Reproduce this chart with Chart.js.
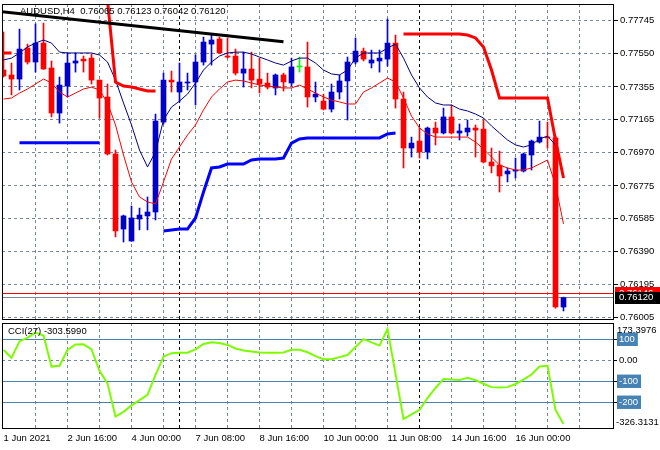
<!DOCTYPE html>
<html>
<head>
<meta charset="utf-8">
<script src="https://cdn.jsdelivr.net/npm/chart.js@4"></script>
<style>
  body { margin: 0; background: #fff; }
  #wrap { position: relative; width: 660px; height: 450px; overflow: hidden; }
  canvas { position: absolute; left: 0; }
  #main { top: 0; }
  #cci { top: 320px; }
</style>
</head>
<body>
<div id="wrap">
  <canvas id="main" width="660" height="325"></canvas>
  <canvas id="cci" width="660" height="130"></canvas>
</div>
<script>
// ---- data ----
const symbolTitle = 'AUDUSD,H4';
const xTickLabels = ['1 Jun 2021', '2 Jun 16:00', '4 Jun 00:00', '7 Jun 08:00', '8 Jun 16:00',
                     '10 Jun 00:00', '11 Jun 08:00', '14 Jun 16:00', '16 Jun 00:00'];
const labelBars = [0, 8, 16, 24, 32, 40, 48, 56, 64];
const gridBars = [4, 8, 12, 16, 20, 24, 28, 32, 36, 40, 44, 48, 52, 56, 60, 64, 68, 72];
const separatorBars = [22, 52];   // week starts
const yTickLabels = ['0.76005', '0.76195', '0.76390', '0.76585', '0.76775',
                     '0.76970', '0.77165', '0.77355', '0.77550', '0.77745'];
const cciTickValues = [-200, -100, 0, 100];
const cciTickLabels = ['-200', '-100', '0.00', '100'];
const cciLevels = [100, -100, -200];
const cciPeriod = 27;
const cciMax = 173.3976;
const cciMin = -326.3131;
const askPrice = 0.76146;

const open = [
  0.77454, 0.77425, 0.77401, 0.77583, 0.77501, 0.77612, 0.77466, 0.77202, 0.77360, 0.77495,
  0.77518, 0.77524, 0.77395, 0.77296, 0.76962, 0.76522, 0.76452, 0.76581, 0.76599, 0.76622,
  0.77149, 0.77395, 0.77325, 0.77378, 0.77384, 0.77501, 0.77606, 0.77636, 0.77536, 0.77536,
  0.77436, 0.77460, 0.77401, 0.77378, 0.77349, 0.77425, 0.77378, 0.77472, 0.77472, 0.77296,
  0.77272, 0.77225, 0.77325, 0.77390, 0.77501, 0.77565, 0.77495, 0.77507, 0.77518, 0.77612,
  0.77284, 0.76997, 0.77038, 0.76974, 0.77114, 0.77085, 0.77179, 0.77085, 0.77091, 0.77114,
  0.77108, 0.76915, 0.76897, 0.76845, 0.76862, 0.76862, 0.76956, 0.77032, 0.77061, 0.77056,
  0.76065
];
const high = [
  0.77677, 0.77495, 0.77694, 0.77606, 0.77724, 0.77729, 0.77507, 0.77413, 0.77554, 0.77554,
  0.77536, 0.77548, 0.77396, 0.77372, 0.76985, 0.76604, 0.76657, 0.76645, 0.76710, 0.77196,
  0.77436, 0.77448, 0.77495, 0.77436, 0.77542, 0.77647, 0.77665, 0.77647, 0.77642, 0.77577,
  0.77559, 0.77559, 0.77524, 0.77436, 0.77431, 0.77436, 0.77524, 0.77530, 0.77618, 0.77384,
  0.77313, 0.77372, 0.77425, 0.77530, 0.77642, 0.77583, 0.77571, 0.77571, 0.77753, 0.77659,
  0.77325, 0.77061, 0.77114, 0.77120, 0.77149, 0.77231, 0.77249, 0.77138, 0.77161, 0.77132,
  0.77161, 0.76997, 0.76979, 0.76880, 0.76938, 0.76968, 0.77044, 0.77155, 0.77149, 0.77067,
  0.76123
];
const low = [
  0.77413, 0.77308, 0.77337, 0.77489, 0.77442, 0.77458, 0.77179, 0.77143, 0.77296, 0.77442,
  0.77442, 0.77372, 0.77173, 0.76956, 0.76476, 0.76446, 0.76450, 0.76517, 0.76517, 0.76575,
  0.77138, 0.77325, 0.77267, 0.77337, 0.77249, 0.77483, 0.77483, 0.77552, 0.77524, 0.77425,
  0.77354, 0.77349, 0.77319, 0.77343, 0.77308, 0.77331, 0.77360, 0.77442, 0.77237, 0.77267,
  0.77220, 0.77208, 0.77284, 0.77161, 0.77489, 0.77507, 0.77466, 0.77442, 0.77477, 0.77231,
  0.76880, 0.76944, 0.76938, 0.76933, 0.77015, 0.77079, 0.77079, 0.77044, 0.77067, 0.76944,
  0.76909, 0.76851, 0.76739, 0.76798, 0.76821, 0.76856, 0.76868, 0.77026, 0.76997, 0.76058,
  0.76042
];
const close = [
  0.77419, 0.77401, 0.77577, 0.77501, 0.77612, 0.77460, 0.77202, 0.77366, 0.77495, 0.77507,
  0.77507, 0.77395, 0.77290, 0.76962, 0.76511, 0.76599, 0.76587, 0.76604, 0.76622, 0.77155,
  0.77395, 0.77384, 0.77384, 0.77384, 0.77501, 0.77618, 0.77630, 0.77554, 0.77530, 0.77436,
  0.77460, 0.77395, 0.77372, 0.77354, 0.77425, 0.77384, 0.77472, 0.77472, 0.77296, 0.77313,
  0.77225, 0.77325, 0.77390, 0.77501, 0.77565, 0.77518, 0.77513, 0.77524, 0.77612, 0.77284,
  0.76997, 0.77026, 0.76974, 0.77114, 0.77085, 0.77179, 0.77085, 0.77097, 0.77114, 0.77102,
  0.76915, 0.76892, 0.76833, 0.76862, 0.76868, 0.76962, 0.77038, 0.77061, 0.77056, 0.76066,
  0.76120
];
const upperBand = [
  0.77513, 0.77524, 0.77554, 0.77589, 0.77612, 0.77630, 0.77612, 0.77559, 0.77554, 0.77554,
  0.77554, 0.77554, 0.77542, 0.77501, 0.77395, 0.77261, 0.77132, 0.76985, 0.76886, 0.76974,
  0.77161, 0.77237, 0.77272, 0.77313, 0.77378, 0.77454, 0.77501, 0.77536, 0.77554, 0.77559,
  0.77559, 0.77548, 0.77530, 0.77513, 0.77495, 0.77483, 0.77507, 0.77524, 0.77524, 0.77495,
  0.77454, 0.77431, 0.77425, 0.77454, 0.77524, 0.77554, 0.77554, 0.77554, 0.77583, 0.77606,
  0.77524, 0.77425, 0.77349, 0.77296, 0.77261, 0.77249, 0.77249, 0.77225, 0.77214, 0.77196,
  0.77173, 0.77126, 0.77085, 0.77044, 0.77015, 0.77003, 0.77015, 0.77050, 0.77067, 0.77015,
  0.76833
];
const lowerBand = [
  0.77284, 0.77290, 0.77319, 0.77343, 0.77372, 0.77401, 0.77378, 0.77325, 0.77296, 0.77319,
  0.77343, 0.77354, 0.77337, 0.77261, 0.77132, 0.76956, 0.76798, 0.76710, 0.76681, 0.76669,
  0.76798, 0.76933, 0.77003, 0.77073, 0.77132, 0.77220, 0.77296, 0.77343, 0.77384, 0.77395,
  0.77390, 0.77378, 0.77366, 0.77360, 0.77354, 0.77349, 0.77349, 0.77366, 0.77343, 0.77319,
  0.77296, 0.77278, 0.77267, 0.77255, 0.77255, 0.77325, 0.77349, 0.77378, 0.77407, 0.77384,
  0.77290, 0.77184, 0.77114, 0.77079, 0.77061, 0.77061, 0.77061, 0.77061, 0.77061, 0.77032,
  0.76991, 0.76944, 0.76897, 0.76880, 0.76868, 0.76868, 0.76880, 0.76903, 0.76927, 0.76780,
  0.76552
];
const stopRed = [
  0.77554, 0.77554, null, null, null, null, null, null, null, null,
  null, null, null, 0.77864, 0.77384, 0.77360, 0.77354, 0.77343, 0.77331, 0.77331,
  null, null, null, null, null, null, null, null, null, null,
  null, null, null, null, null, null, null, null, null, null,
  null, null, null, null, null, null, null, null, null, null,
  0.77665, 0.77665, 0.77665, 0.77665, 0.77665, 0.77665, 0.77665, 0.77665, 0.77659, 0.77642,
  0.77589, 0.77454, 0.77290, 0.77290, 0.77290, 0.77290, 0.77290, 0.77290, 0.77290, 0.77044,
  0.76821
];
const stopBlue = [
  null, null, 0.77028, 0.77028, 0.77028, 0.77028, 0.77028, 0.77028, 0.77028, 0.77028,
  0.77028, 0.77028, 0.77028, null, null, null, null, null, null, null,
  0.76511, 0.76517, 0.76522, 0.76522, 0.76587, 0.76739, 0.76880, 0.76886, 0.76903, 0.76903,
  0.76903, 0.76927, 0.76933, 0.76933, 0.76933, 0.76938, 0.77026, 0.77050, 0.77056, 0.77056,
  0.77056, 0.77056, 0.77056, 0.77056, 0.77056, 0.77056, 0.77056, 0.77056, 0.77079, 0.77085,
  null, null, null, null, null, null, null, null, null, null,
  null, null, null, null, null, null, null, null, null, null,
  null
];
const trendX = [-0.5, 35];
const trendY = [0.77797, 0.77620];
const cci = [
  49, 12, 90, 108, 132, 118, -30, -26, 49, 75,
  76, 52, -50, -110, -268, -246, -215, -190, -165, -70,
  17, 34, 36, 36, 52, 78, 86, 82, 73, 56,
  47, 42, 37, 36, 36, 37, 50, 50, 38, 20,
  5, 5, 15, 25, 63, 101, 85, 70, 149, -65,
  -280, -258, -236, -180, -132, -89, -92, -94, -83, -95,
  -112, -128, -130, -128, -113, -92, -68, -30, -26, -237,
  -303.599
];

// ---- look ----
const FONT = '"Liberation Sans", Arial, sans-serif';
const FONT_SIZE = 9.5;
const GRID = '#778899';
const BULL = '#0000c8', BULL_WICK = '#0000ff', BEAR = '#ff0000', DOJI = '#00ff00';
const X_MIN = -0.1875, X_MAX = 76.3125;
const P_MIN = 0.75989, P_MAX = 0.77841;
const CCI_AXIS_MIN = -327.5, CCI_AXIS_MAX = 177.6;

const idx = open.map((_, i) => i);
const pts = arr => idx.map(i => ({ x: i, y: arr[i] }));
const candleColor = i => close[i] > open[i] ? BULL : close[i] < open[i] ? BEAR : DOJI;
const wickColor = i => close[i] > open[i] ? BULL_WICK : close[i] < open[i] ? BEAR : DOJI;

function drawGrid(chart, yValues) {
  const { ctx, chartArea: a, scales: { x, y } } = chart;
  ctx.save();
  ctx.lineWidth = 1;
  ctx.strokeStyle = GRID;
  ctx.setLineDash([3, 3]);
  ctx.beginPath();
  gridBars.forEach(v => {
    if (separatorBars.includes(v)) return;
    const px = Math.floor(x.getPixelForValue(v)) + 0.5;
    ctx.moveTo(px, a.top); ctx.lineTo(px, a.bottom);
  });
  yValues.forEach(v => {
    const py = Math.floor(y.getPixelForValue(v)) + 0.5;
    ctx.moveTo(a.left, py); ctx.lineTo(a.right, py);
  });
  ctx.stroke();
  ctx.strokeStyle = '#000';
  ctx.beginPath();
  separatorBars.forEach(v => {
    const px = Math.floor(x.getPixelForValue(v)) + 0.5;
    ctx.moveTo(px, a.top); ctx.lineTo(px, a.bottom);
  });
  ctx.stroke();
  ctx.restore();
}

function drawFrame(chart) {
  const { ctx, chartArea: a } = chart;
  ctx.save();
  ctx.strokeStyle = '#000';
  ctx.lineWidth = 1;
  ctx.strokeRect(a.left + 0.5, a.top + 0.5, a.right - a.left - 1, a.bottom - a.top - 1);
  ctx.restore();
}

// keep the plot area where the screenshot has it
function fixWidth(s) {
  s.width = 46;
  s.paddingTop = 0;
  s.paddingBottom = 0;
}

const mainDecor = {
  id: 'mainDecor',
  beforeDatasetsDraw(chart) {
    drawGrid(chart, yTickLabels.map(parseFloat));
    const { ctx, chartArea: a, scales: { y } } = chart;
    const bid = close[close.length - 1];
    ctx.save();
    [[askPrice, '#ff0000'], [bid, GRID]].forEach(([p, c]) => {
      const py = Math.floor(y.getPixelForValue(p)) + 0.5;
      ctx.strokeStyle = c;
      ctx.beginPath(); ctx.moveTo(a.left, py); ctx.lineTo(a.right, py); ctx.stroke();
    });
    ctx.restore();
  },
  afterDatasetsDraw(chart) { drawFrame(chart); },
  afterDraw(chart) {
    const { ctx, chartArea: a, scales: { y } } = chart;
    const last = close.length - 1;
    ctx.save();
    ctx.font = `${FONT_SIZE}px ${FONT}`;
    ctx.textBaseline = 'middle';
    [[askPrice, '#ff0000'], [close[last], '#000']].forEach(([p, c]) => {
      const py = y.getPixelForValue(p);
      ctx.fillStyle = c;
      ctx.fillRect(a.right + 1, Math.round(py) - 6, 46, 12);
      ctx.fillStyle = '#fff';
      ctx.fillText(p.toFixed(5), a.right + 5, py);
    });
    ctx.fillStyle = '#000';
    ctx.fillText(`${symbolTitle}  ${[open, high, low, close].map(s => s[last].toFixed(5)).join(' ')}`, 20, 11);
    ctx.restore();
  }
};

const cciDecor = {
  id: 'cciDecor',
  beforeDatasetsDraw(chart) {
    drawGrid(chart, [0]);
    const { ctx, chartArea: a, scales: { y } } = chart;
    ctx.save();
    ctx.strokeStyle = '#4682b4';
    ctx.lineWidth = 1;
    ctx.beginPath();
    cciLevels.forEach(v => {
      const py = Math.floor(y.getPixelForValue(v)) + 0.5;
      ctx.moveTo(a.left, py); ctx.lineTo(a.right, py);
    });
    ctx.stroke();
    ctx.restore();
  },
  afterDatasetsDraw(chart) { drawFrame(chart); },
  afterDraw(chart) {
    const { ctx, chartArea: a } = chart;
    ctx.save();
    ctx.font = `${FONT_SIZE}px ${FONT}`;
    ctx.fillStyle = '#000';
    ctx.textBaseline = 'middle';
    ctx.fillText(cciMax.toFixed(4), a.right + 3, a.top + 7);
    ctx.fillText(cciMin.toFixed(4), a.right + 2, a.bottom - 7);
    ctx.fillText(`CCI(${cciPeriod}) ${cci[cci.length - 1].toFixed(4)}`, 8, a.top + 8);
    ctx.restore();
  }
};

const xScale = {
  type: 'linear',
  min: X_MIN,
  max: X_MAX,
  offset: false
};
const tickFont = { family: FONT, size: FONT_SIZE };

// ---- price panel ----
new Chart(document.getElementById('main'), {
  type: 'line',
  data: {
    datasets: [
      { data: trendX.map((x, k) => ({ x, y: trendY[k] })), borderColor: '#000', borderWidth: 3, pointRadius: 0, order: 0 },
      { data: pts(stopRed), borderColor: '#ff0000', borderWidth: 3, pointRadius: 0, order: 1 },
      { data: pts(stopBlue), borderColor: '#0000ff', borderWidth: 3, pointRadius: 0, order: 1 },
      { data: pts(upperBand), borderColor: '#000080', borderWidth: 1, pointRadius: 0, order: 2 },
      { data: pts(lowerBand), borderColor: '#ff0000', borderWidth: 1, pointRadius: 0, order: 2 },
      {
        type: 'bar', data: idx.map(i => ({ x: i, y: [open[i], close[i]] })),
        backgroundColor: ctx => candleColor(ctx.dataIndex),
        barThickness: 5, minBarLength: 1, grouped: false, order: 5
      },
      {
        type: 'bar', data: idx.map(i => ({ x: i, y: [low[i], high[i]] })),
        backgroundColor: ctx => wickColor(ctx.dataIndex),
        barThickness: 1, grouped: false, order: 6
      }
    ]
  },
  options: {
    responsive: false,
    animation: false,
    events: [],
    layout: { padding: { left: 2, top: 4, right: 0, bottom: 5 } },
    plugins: { legend: { display: false }, tooltip: { enabled: false } },
    scales: {
      x: { ...xScale, display: false },
      y: {
        position: 'right',
        min: P_MIN,
        max: P_MAX,
        afterBuildTicks: s => { s.ticks = yTickLabels.map(t => ({ value: parseFloat(t) })); },
        afterFit: fixWidth,
        grid: { drawOnChartArea: false, color: '#000', tickLength: 4 },
        border: { display: false },
        ticks: { autoSkip: false, padding: 2, color: '#000', font: tickFont, callback: (v, i) => yTickLabels[i] }
      }
    }
  },
  plugins: [mainDecor]
});

// ---- CCI panel ----
new Chart(document.getElementById('cci'), {
  type: 'line',
  data: {
    datasets: [
      { data: pts(cci), borderColor: '#7cfc00', borderWidth: 2, pointRadius: 0 }
    ]
  },
  options: {
    responsive: false,
    animation: false,
    events: [],
    layout: { padding: { left: 2, top: 3, right: 0, bottom: 0 } },
    plugins: { legend: { display: false }, tooltip: { enabled: false } },
    scales: {
      x: {
        ...xScale,
        afterBuildTicks: s => { s.ticks = labelBars.map(v => ({ value: v })); },
        afterFit: s => { s.height = 21; s.paddingLeft = 0; s.paddingRight = 0; },
        grid: { display: false, drawTicks: false },
        border: { display: false },
        ticks: {
          autoSkip: false, maxRotation: 0, align: 'start', padding: 4,
          color: '#000', font: tickFont, callback: (v, i) => xTickLabels[i]
        }
      },
      y: {
        position: 'right',
        min: CCI_AXIS_MIN,
        max: CCI_AXIS_MAX,
        afterBuildTicks: s => { s.ticks = cciTickValues.map(v => ({ value: v })); },
        afterFit: fixWidth,
        grid: { drawOnChartArea: false, color: '#000', tickLength: 3 },
        border: { display: false },
        ticks: {
          autoSkip: false, padding: 2, font: tickFont,
          color: ctx => cciLevels.includes(ctx.tick.value) ? '#fff' : '#000',
          showLabelBackdrop: ctx => cciLevels.includes(ctx.tick.value),
          backdropColor: '#4682b4',
          backdropPadding: { left: 2, right: 3, top: 1, bottom: 1 },
          callback: (v, i) => cciTickLabels[i]
        }
      }
    }
  },
  plugins: [cciDecor]
});
</script>
</body>
</html>
